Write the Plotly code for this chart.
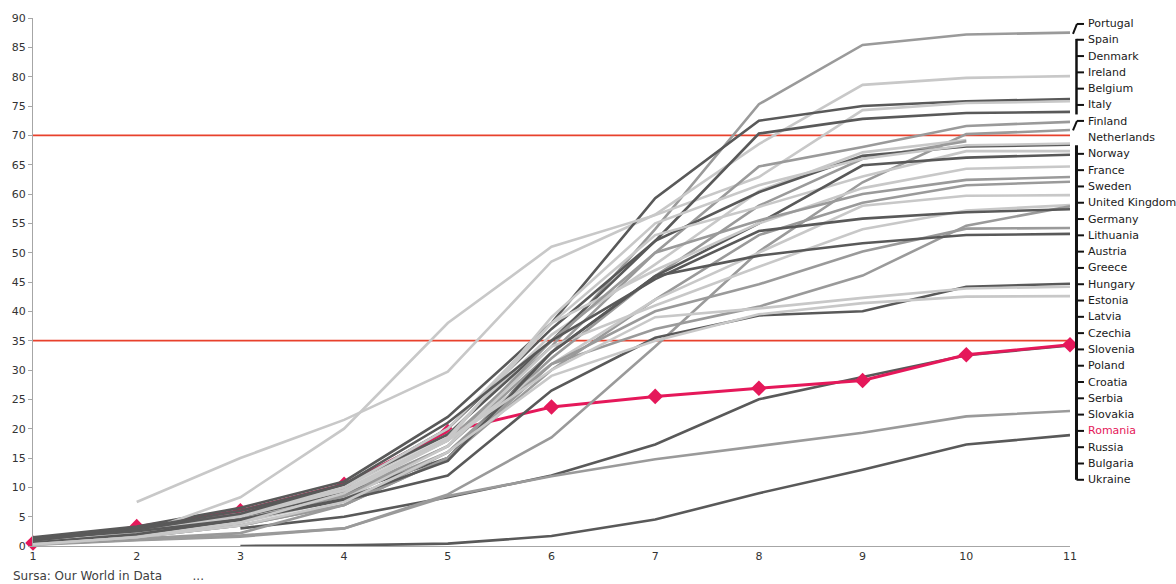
import plotly.graph_objects as go

x_vals = list(range(1, 12))

DARK = "#595959"
MID = "#9a9a9a"
LIGHT = "#c8c8c8"

# gray country series (None = no data)
portugal = [0.4, 2.2, 4.8, 9.5, 18, 34, 54, 75.3, 85.4, 87.2, 87.5]
spain = [None, 7.5, 15, 21.5, 29.7, 48.5, 56.5, 68.5, 78.6, 79.8, 80.1]
denmark = [1.5, 3.3, 6.5, 11, 22, 38, 59.3, 72.5, 75.0, 75.8, 76.2]
ireland = [0.3, 2.0, 8.3, 20, 38, 51, 56.4, 62.9, 74.3, 75.5, 75.8]
belgium = [0.8, 2.8, 5.5, 10, 20, 37, 52, 70.3, 72.8, 73.8, 74.0]
italy = [0.6, 2.6, 5.0, 9, 17, 33, 50, 64.7, 68.0, 71.6, 72.3]
finland = [0.3, 1.0, 1.8, 3.0, 8.8, 18.5, 34, 50.2, 62, 70.2, 70.9]
netherlands = [0.5, 2.4, 5.5, 10, 19, 36, 48, 60.5, 67.1, 69.2, None]
extra_mid = [0.4, 2.0, 4.5, 8.5, 16, 32, 46, 58, 66, 69.0, None]
norway = [1.2, 3.0, 6.0, 10.5, 19, 35, 52, 60.3, 66.5, 68.1, 68.4]
extra_light = [0.3, 1.8, 4.5, 9, 18, 39, 55, 61.5, 66, 68.3, 68.6]
france = [0.4, 2.2, 5.0, 9.5, 18.5, 38, 53, 57.8, 63, 67.3, 67.3]
sweden = [0.7, 2.5, 5.0, 9, 15, 33, 46, 55, 64.9, 66.2, 66.7]
uk = [0.5, 2.4, 5.2, 10, 20, 38, 47, 55, 61, 64.3, 64.7]
germany = [0.4, 2.0, 4.5, 8.5, 17, 35, 50, 55.5, 60, 62.4, 62.9]
lithuania = [0.2, 1.5, 3.5, 7, 15, 30, 42, 53, 58.5, 61.5, 62.1]
austria = [0.4, 2.2, 5.0, 9.5, 18, 31, 42, 50, 58, 59.7, 59.8]
greece = [0.2, 1.5, 4.0, 8, 17, 34, 41, 47.6, 54.0, 57.2, 58.1]
hungary = [0.3, 1.2, 2.2, 7, 15, 31, 37, 40.8, 46.1, 54.6, 57.9]
estonia = [1.0, 2.8, 5.5, 10.5, 21, 35, 45.5, 53.7, 55.8, 56.9, 57.4]
latvia = [0.3, 1.5, 3.5, 7, 16, 31, 40, 44.6, 50.2, 54.1, 54.2]
czechia = [0.6, 2.0, 4.5, 8, 14.5, 33, 46, 49.5, 51.6, 53.0, 53.2]
slovenia = [1.2, 2.5, 4.5, 7.8, 12, 26.5, 35.5, 39.3, 40.0, 44.2, 44.7]
poland = [0.3, 1.5, 4.0, 9, 18, 30, 39, 40.5, 42.3, 43.9, 44.2]
croatia = [0.3, 1.5, 3.5, 7.5, 16, 29, 35, 39.5, 41.4, 42.5, 42.6]
serbia = [None, None, 3.0, 5.0, 8.3, 12, 17.3, 25.0, 28.8, 32.5, 34.2]
slovakia = [0.2, 1.0, 1.6, 3.0, 8.5, 11.9, 14.8, 17.1, 19.3, 22.1, 23.0]
ukraine = [None, None, 0.0, 0.1, 0.4, 1.7, 4.5, 9.0, 13.0, 17.3, 18.9]

romania = [0.5, 3.3, 6.0, 10.5, 19.5, 23.7, 25.5, 26.9, 28.2, 32.6, 34.3]

threshold_values = [70, 35]

# drawn before Romania
under_series = [(serbia, DARK), (slovakia, MID), (ukraine, DARK)]
# drawn after Romania
over_series = [
    (portugal, MID), (spain, LIGHT), (denmark, DARK), (ireland, LIGHT),
    (belgium, DARK), (italy, MID), (finland, MID), (netherlands, LIGHT),
    (extra_mid, MID), (norway, DARK), (extra_light, LIGHT), (france, LIGHT),
    (sweden, DARK), (uk, LIGHT), (germany, MID), (lithuania, MID),
    (austria, LIGHT), (greece, LIGHT), (hungary, MID), (estonia, DARK),
    (latvia, MID), (czechia, DARK), (slovenia, DARK), (poland, LIGHT),
    (croatia, LIGHT),
]

labels = ["Portugal", "Spain", "Denmark", "Ireland", "Belgium", "Italy", "Finland",
          "Netherlands", "Norway", "France", "Sweden", "United Kingdom", "Germany",
          "Lithuania", "Austria", "Greece", "Hungary", "Estonia", "Latvia", "Czechia",
          "Slovenia", "Poland", "Croatia", "Serbia", "Slovakia", "Romania", "Russia",
          "Bulgaria", "Ukraine"]

y_ticks = list(range(0, 95, 5))

fig = go.Figure()

for tv in threshold_values:
    fig.add_trace(go.Scatter(x=[x_vals[0], x_vals[-1]], y=[tv, tv], mode="lines",
                             line=dict(color="#e8412c", width=1.6), hoverinfo="skip",
                             showlegend=False))


def add_gray(vals, col):
    fig.add_trace(go.Scatter(x=x_vals, y=vals, mode="lines",
                             line=dict(color=col, width=2.6), connectgaps=False,
                             showlegend=False))


for vals, col in under_series:
    add_gray(vals, col)

fig.add_trace(go.Scatter(x=x_vals, y=romania, mode="lines+markers",
                         line=dict(color="#e5185a", width=3),
                         marker=dict(symbol="diamond", size=12, color="#e5185a"),
                         cliponaxis=False, showlegend=False))

for vals, col in over_series:
    add_gray(vals, col)

# layout geometry helpers (pixels -> paper)
L, R, T, B = 31, 1070, 15, 546
W = 1176
H = 584


def px(xp):
    return (xp - L) / (R - L)


def py(yp):
    return (B - yp) / (B - T)


annotations = []
first_y, step = 20.5, 16.39
label_ys = [first_y + i * step for i in range(len(labels))]
for name, ly in zip(labels, label_ys):
    annotations.append(dict(
        x=px(1086), y=py(ly), xref="paper", yref="paper", text=name,
        showarrow=False, xanchor="left", yanchor="middle",
        font=dict(family="DejaVu Sans", size=11,
                  color="#e5185a" if name == "Romania" else "#1a1a1a")))

annotations.append(dict(
    x=px(9), y=py(576), xref="paper", yref="paper",
    text="Sursa: Our World in Data&nbsp;&nbsp;&nbsp;&nbsp;&nbsp;&nbsp;&nbsp;&nbsp;...",
    showarrow=False, xanchor="left", yanchor="middle",
    font=dict(family="DejaVu Sans", size=12, color="#404040")))

shapes = []


def seg(x0, y0, x1, y1, width=2):
    shapes.append(dict(type="line", xref="paper", yref="paper",
                       x0=px(x0), y0=py(y0), x1=px(x1), y1=py(y1),
                       line=dict(color="#111111", width=width)))


# Portugal
seg(1073, 31, 1077, 21)
seg(1077, 21, 1084, 21)
# Spain..Italy
seg(1076.5, 36, 1076.5, 112, 2.5)
for ly in label_ys[1:6]:
    seg(1076.5, ly, 1084, ly)
# Finland
seg(1073, 128, 1077, 118.5)
seg(1077, 118.5, 1084, 118.5)
# Norway..Ukraine
seg(1076.5, 143, 1076.5, label_ys[-1], 3)
for ly in label_ys[8:]:
    seg(1076.5, ly, 1084, ly)

fig.update_layout(
    width=W, height=H,
    margin=dict(l=L, r=W - R, t=T, b=H - B),
    paper_bgcolor="white", plot_bgcolor="white",
    font=dict(family="DejaVu Sans", size=11, color="#333333"),
    xaxis=dict(range=[1, 11], tickvals=x_vals, showgrid=False, zeroline=False,
               showline=True, linecolor="#a6a6a6", linewidth=1, ticks="",
               tickfont=dict(size=11, color="#333333")),
    yaxis=dict(range=[0, 90], tickvals=y_ticks, showgrid=False, zeroline=False,
               showline=True, linecolor="#a6a6a6", linewidth=1, ticks="outside",
               ticklen=4, tickcolor="#a6a6a6",
               tickfont=dict(size=11, color="#333333")),
    annotations=annotations, shapes=shapes,
)

fig.write_html("out.html", config={"displayModeBar": False},
               post_script="document.body.style.margin='0';document.body.style.overflow='hidden';")
